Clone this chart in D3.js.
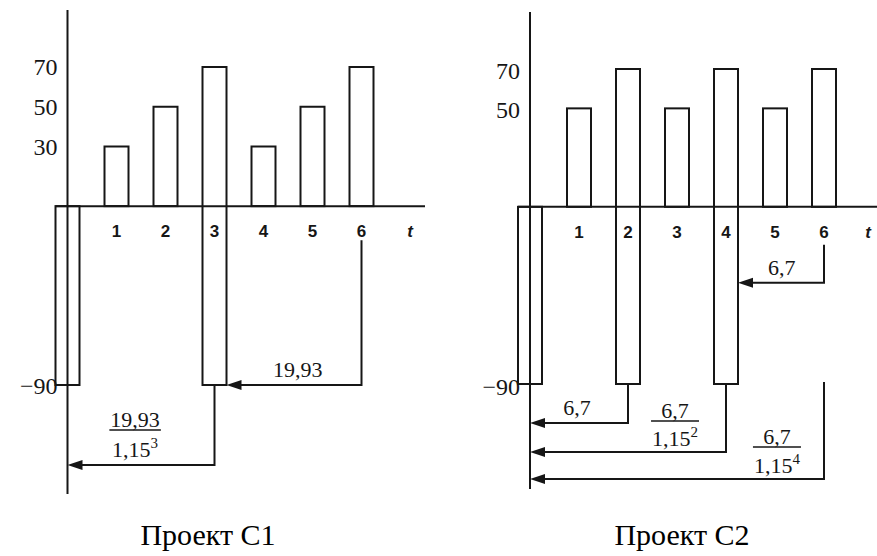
<!DOCTYPE html>
<html>
<head>
<meta charset="utf-8">
<script src="https://cdn.jsdelivr.net/npm/d3@7"></script>
<style>
  html, body { margin: 0; padding: 0; background: #fff; }
  svg { display: block; }
</style>
</head>
<body>
<svg id="chart" width="877" height="556"></svg>
<script>
// Cash flows of two projects by period t (investment at t = 0)
const periods = [0, 1, 2, 3, 4, 5, 6];
const flowsC1 = [-90, 30, 50, 70, 30, 50, 70];
const flowsC2 = [-90, 50, 70, 50, 70, 50, 70];
// periods whose column is carried down to the investment level
const carriedC1 = [3];
const carriedC2 = [2, 4];
const yTicksC1 = [70, 50, 30, -90];
const yTicksC2 = [70, 50, -90];
const periodLabels = ["1", "2", "3", "4", "5", "6"];
const captions = ["Проект С1", "Проект С2"];

// Discounting arrows: amount moved from one period back to another
const arrowsC1 = [
  { from: 6, to: 3, num: "19,93", pow: null },
  { from: 3, to: 0, num: "19,93", pow: "3" }
];
const arrowsC2 = [
  { from: 6, to: 4, num: "6,7", pow: null },
  { from: 2, to: 0, num: "6,7", pow: null },
  { from: 4, to: 0, num: "6,7", pow: "2" },
  { from: 6, to: 0, num: "6,7", pow: "4" }
];

const INK = "#161616";
const SERIF = "'Liberation Serif', 'Times New Roman', serif";
const SANS = "'Liberation Sans', Arial, sans-serif";
const svg = d3.select("#chart");

function drawPanel(cfg) {
  const g = svg.append("g");
  const x = d3.scaleLinear().domain([0, 6]).range([cfg.x0, cfg.x0 + 6 * cfg.step]);
  const y = d3.scaleLinear().domain([-90, 70]).range(cfg.yRange);
  const bw = 24;
  const low = d => cfg.carried.includes(d) ? cfg.flows[0] : Math.min(cfg.flows[d], 0);
  const high = d => Math.max(cfg.flows[d], 0);

  // bars (outlined only)
  g.selectAll("rect.bar").data(periods).enter().append("rect")
    .attr("class", "bar")
    .attr("x", d => x(d) - bw / 2)
    .attr("width", bw)
    .attr("y", d => y(high(d)))
    .attr("height", d => y(low(d)) - y(high(d)))
    .attr("fill", "none").attr("stroke", INK).attr("stroke-width", 2);

  // axes
  g.append("line")
    .attr("x1", x(0) - bw / 2).attr("x2", cfg.hEnd)
    .attr("y1", y(0)).attr("y2", y(0))
    .attr("stroke", INK).attr("stroke-width", 2);
  g.append("line")
    .attr("x1", x(0)).attr("x2", x(0))
    .attr("y1", cfg.vTop).attr("y2", cfg.vBottom)
    .attr("stroke", INK).attr("stroke-width", 2);

  // value labels on the left of the axis
  g.selectAll("text.ytick").data(cfg.ticks).enter().append("text")
    .attr("class", "ytick")
    .attr("x", x(0) - 10)
    .attr("y", d => y(d) + (d < 0 ? 9 : 8) + cfg.tickShift)
    .attr("text-anchor", "end")
    .attr("font-family", SERIF).attr("font-size", 24).attr("fill", INK)
    .text(d => d < 0 ? "\u2212" + Math.abs(d) : d);

  // period labels
  g.selectAll("text.xtick").data(periodLabels).enter().append("text")
    .attr("class", "xtick")
    .attr("x", (d, i) => x(i + 1))
    .attr("y", y(0) + 31)
    .attr("text-anchor", "middle")
    .attr("font-family", SANS).attr("font-weight", "bold").attr("font-size", 17).attr("fill", INK)
    .text(d => d);
  g.append("text")
    .attr("x", cfg.tX).attr("y", y(0) + 31)
    .attr("text-anchor", "middle")
    .attr("font-family", SANS).attr("font-weight", "bold").attr("font-style", "italic")
    .attr("font-size", 17).attr("fill", INK)
    .text("t");

  // arrows
  cfg.arrows.forEach((a, i) => {
    const L = cfg.arrowLayout[i];
    const xs = x(a.from);
    const top = L.top(y);
    const level = L.level(y);
    const xt = a.to === 0 ? x(0) : x(a.to) + bw / 2;
    g.append("path")
      .attr("d", `M${xs},${top}V${level}H${xt + 10}`)
      .attr("fill", "none").attr("stroke", INK).attr("stroke-width", 2);
    g.append("path")
      .attr("d", `M${xt},${level}L${xt + 15},${level - 5}L${xt + 15},${level + 5}Z`)
      .attr("fill", INK);

    const lx = x(L.lt);
    if (!a.pow) {
      g.append("text")
        .attr("x", lx).attr("y", level - 8)
        .attr("text-anchor", "middle")
        .attr("font-family", SERIF).attr("font-size", 22).attr("fill", INK)
        .text(a.num);
    } else {
      const num = g.append("text")
        .attr("x", lx).attr("y", level - L.numUp)
        .attr("text-anchor", "middle")
        .attr("font-family", SERIF).attr("font-size", 22).attr("fill", INK)
        .text(a.num);
      const w = num.node().getComputedTextLength();
      const den = g.append("text")
        .attr("x", lx).attr("y", level - L.denUp)
        .attr("text-anchor", "middle")
        .attr("font-family", SERIF).attr("font-size", 22).attr("fill", INK);
      den.append("tspan").text("1,15");
      den.append("tspan").attr("dy", -9).attr("font-size", 15).text(a.pow);
      const dw = den.node().getComputedTextLength();
      const half = Math.max(w, dw) / 2 + 1;
      g.append("line")
        .attr("x1", lx - half).attr("x2", lx + half)
        .attr("y1", level - L.numUp + 3).attr("y2", level - L.numUp + 3)
        .attr("stroke", INK).attr("stroke-width", 1.6);
    }
  });

  // caption
  g.append("text")
    .attr("x", cfg.capX).attr("y", 545)
    .attr("text-anchor", "middle")
    .attr("font-family", SERIF).attr("font-size", 30).attr("fill", "#000")
    .text(cfg.caption);
}

drawPanel({
  flows: flowsC1, carried: carriedC1, ticks: yTicksC1, arrows: arrowsC1, caption: captions[0],
  x0: 67.5, step: 49, yRange: [385, 67], tickShift: 0,
  vTop: 10, vBottom: 494, hEnd: 425, tX: 410, capX: 208,
  arrowLayout: [
    { top: y => y(0) + 34, level: y => y(-90), lt: 4.7 },
    { top: y => y(-90), level: y => y(-90) + 80, lt: 1.38, numUp: 38, denUp: 8 }
  ]
});

drawPanel({
  flows: flowsC2, carried: carriedC2, ticks: yTicksC2, arrows: arrowsC2, caption: captions[1],
  x0: 530, step: 49, yRange: [384, 69], tickShift: 2,
  vTop: 12, vBottom: 489, hEnd: 877, tX: 868, capX: 682,
  arrowLayout: [
    { top: y => y(0) + 38, level: y => y(0) + 76, lt: 5.14 },
    { top: y => y(-90), level: y => y(-90) + 39, lt: 0.96 },
    { top: y => y(-90), level: y => y(-90) + 68, lt: 2.96, numUp: 34, denUp: 6 },
    { top: y => y(-90) - 2, level: y => y(-90) + 95, lt: 5.04, numUp: 35, denUp: 6 }
  ]
});
</script>
</body>
</html>
